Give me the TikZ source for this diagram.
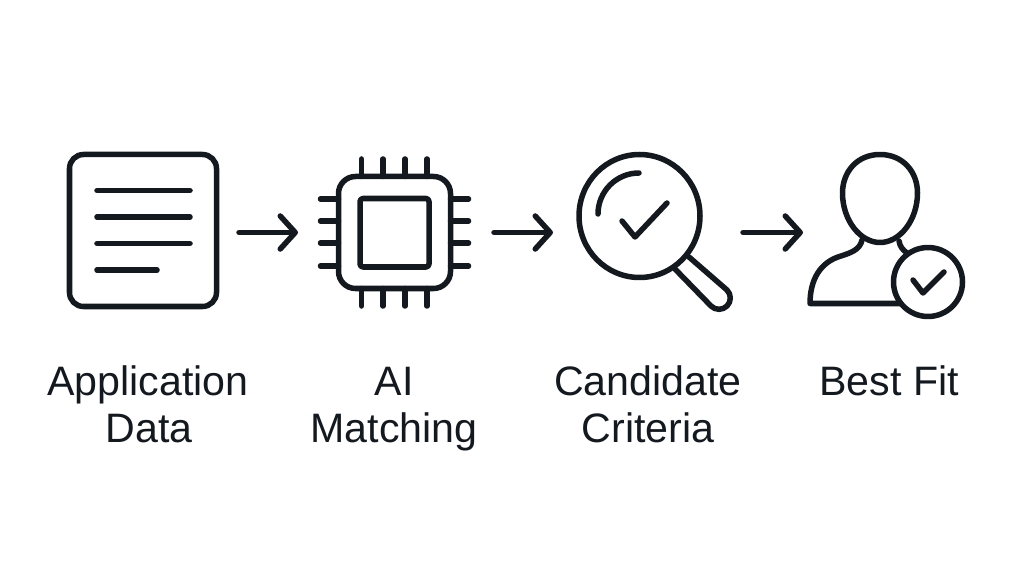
\documentclass[tikz,border=0pt]{standalone}
\usepackage{fontspec}
\setmainfont{Liberation Sans}
\usetikzlibrary{arrows.meta,positioning}
\definecolor{inkdark}{HTML}{14191F}
\tikzset{font=\fontsize{11.7pt}{13.4pt}\selectfont}
\tikzset{icon/.style={draw=inkdark,line width=.055cm,line cap=round,line join=round}}
\tikzset{flowarrow/.style={icon,-{Straight Barb[length=.15cm,width=.33cm,line cap=round,round]}}}
\tikzset{caption/.style={text=inkdark,align=center,anchor=base}}

\begin{document}
\begin{tikzpicture}[x=.01cm,y=-.01cm]
  \useasboundingbox (0,0) rectangle (1024,576);

  % document
  \draw[icon,rounded corners=.14cm] (69.5,154.5) rectangle (216.5,306.5);
  \foreach \y in {190.5,217,243.5}{
               \draw[icon] (97,\y)--(190,\y);
};
  \draw[icon] (97,270)--(157,270);

  % chip
  \draw[icon,rounded corners=.17cm] (338.5,176.5) rectangle (450.5,288.5);
  \draw[icon,rounded corners=.03cm] (360,198.5) rectangle (429,267);
  \foreach \x in {361.5,383,405,427}{
               \draw[icon] (\x,159)--(\x,176.5);
               \draw[icon] (\x,288.5)--(\x,306);
};
  \foreach \y in {199,221,243,266}{
               \draw[icon] (320.5,\y)--(338.5,\y);
               \draw[icon] (450.5,\y)--(468.5,\y);
};

  % magnifier
  \draw[icon] (639.5,216) ellipse [x radius=60.5,y radius=61.5];
  \draw[icon] (598,214) arc[start angle=180,end angle=270,radius=41];
  \draw[icon] (622,221)--(635,237)--(667,203);
  \draw[icon] (675,269)--(711,306) arc[start angle=135,end angle=-45,radius=11.3]--(689,257);

  % person with badge
  \draw[icon] (880,154.5)
     .. controls (857,154.5) and (842.5,172) .. (842.5,193)
     .. controls (842.5,220) and (860,242.5) .. (880,242.5)
     .. controls (900,242.5) and (917.5,220) .. (917.5,193)
     .. controls (917.5,172) and (903,154.5) .. (880,154.5) -- cycle;
  \draw[icon] (862,240)
     .. controls (860,250) and (850,253) .. (841,256)
     .. controls (820,262) and (810,280) .. (810,303.5)
     -- (900,303.5);
  \draw[icon] (899,241) .. controls (900,247) and (903,250) .. (907,253);
  \draw[icon] (928,282) circle (34.5);
  \draw[icon] (913,280)--(923,293)--(944,272);

  % arrows
  \coordinate (docOut) at (239,232.5);
  \coordinate (chipIn) at (298,232.5);
  \coordinate (chipOut) at (494,232.5);
  \coordinate (lensIn) at (553,232.5);
  \coordinate (lensOut) at (743,232.5);
  \coordinate (personIn) at (803,232.5);
  \draw[flowarrow] (docOut)--(chipIn);
  \draw[flowarrow] (chipOut)--(lensIn);
  \draw[flowarrow] (lensOut)--(personIn);

  % labels
  \node[caption] (appLabel) at (148,395) {Application};
  \node[caption] (dataLabel) at (149,442) {Data};
  \node[caption] (aiLabel) at (394,395) {AI};
  \node[caption] (matchLabel) at (394,442) {Matching};
  \node[caption] (candLabel) at (648,395) {Candidate};
  \node[caption] (critLabel) at (648,442) {Criteria};
  \node[caption] (fitLabel) at (889,395) {Best Fit};
\end{tikzpicture}
\end{document}
